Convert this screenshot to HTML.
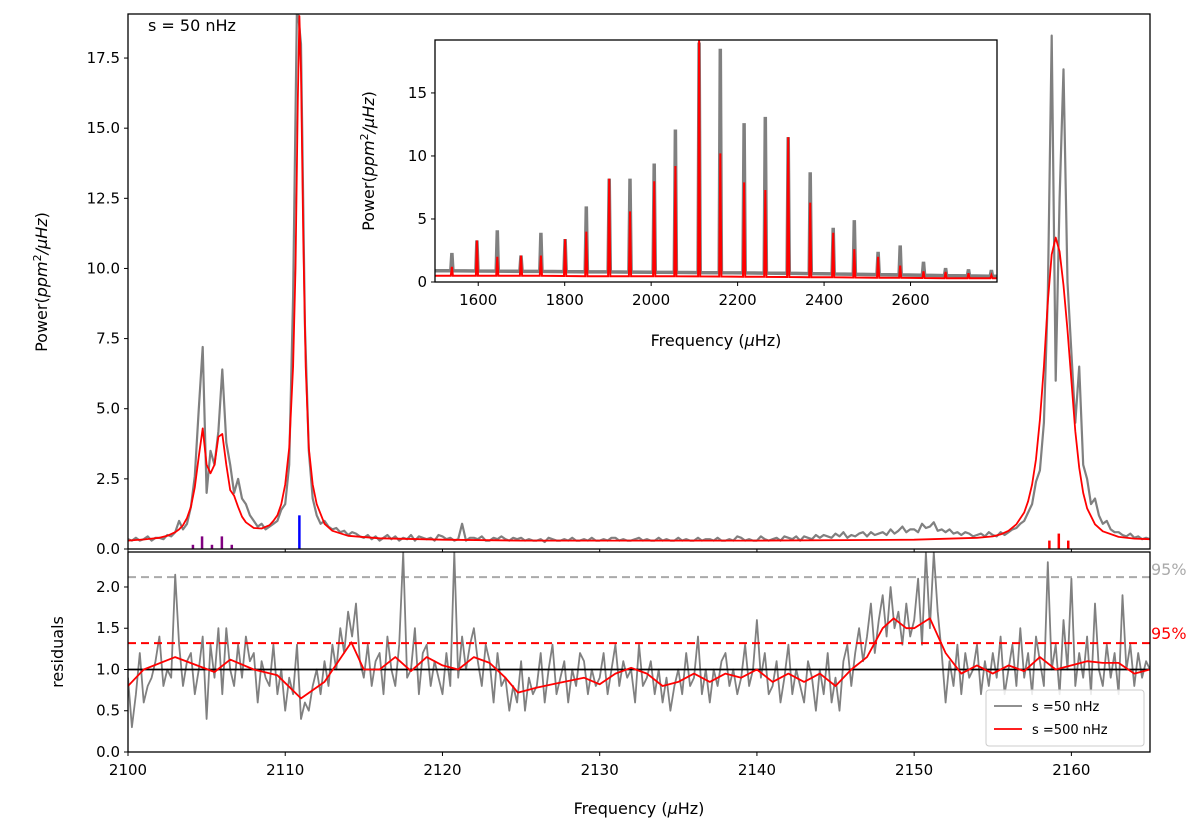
<!DOCTYPE html>
<html><head><meta charset="utf-8"><style>
body{margin:0;background:#fff}
svg{display:block;font-family:"DejaVu Sans","Liberation Sans",sans-serif}
</style></head><body>
<svg id="c" width="1200" height="825" viewBox="0 0 1200 825"></svg>
<script>
// ---------- data ----------
const specStart = 2100, specStep = 0.25;
const specPower = [.35,.3,.4,.3, .35,.45,.3,.4, .4,.35,.5,.45, .6,1.0,.7,.9, 1.5,2.6,5.0,7.2, 2.0,3.5,3.0,4.2, 6.4,3.8,3.0,2.0, 2.5,1.8,1.6,1.2, 1.0,.8,.9,.7, .8,.9,1.0,1.4, 1.6,3.0,9.0,19.5, 18.0,8.0,3.5,1.8, 1.2,.9,1.0,.8, .7,.75,.6,.65, .5,.6,.55,.45,
.4,.5,.35,.45, .3,.4,.5,.35, .45,.3,.4,.35, .5,.3,.45,.4, .35,.4,.3,.5, .45,.35,.4,.3, .35,.9,.3,.4, .4,.35,.45,.3, .3,.4,.35,.45, .35,.3,.4,.35,
.4,.3,.35,.3, .3,.35,.25,.4, .35,.3,.3,.35, .3,.4,.3,.3, .35,.3,.4,.3, .3,.35,.3,.4, .4,.3,.35,.3, .3,.35,.4,.3, .35,.3,.3,.4, .3,.35,.3,.3,
.4,.3,.35,.3, .3,.4,.3,.35, .35,.3,.4,.3, .3,.35,.3,.45, .4,.3,.35,.3, .3,.45,.35,.3, .35,.4,.3,.45, .4,.35,.45,.3, .45,.4,.35,.5, .4,.5,.45,.4,
.55,.45,.6,.4, .5,.45,.55,.6, .45,.6,.5,.55, .6,.5,.7,.55, .65,.8,.6,.7, .7,.6,.9,.75, .8,.95,.65,.7, .6,.7,.55,.6, .5,.6,.55,.45, .5,.55,.45,.6,
.5,.45,.6,.5, .6,.7,.75,.9, 1.0,1.3,1.6,2.4, 2.8,4.5,9.0,18.3, 6.0,12.5,17.1,9.5, 7.0,4.5,6.5,3.0, 2.5,1.6,1.8,1.2, .9,1.0,.7,.6, .6,.5,.45,.55, .4,.45,.35,.4, .35];
const modelFreq = [2100,2100.5,2101,2101.5,2102,2102.5,2103,2103.25,2103.5,2103.75,2104,2104.25,2104.5,2104.75,2105,2105.25,2105.5,2105.75,2106,2106.25,2106.5,2106.75,2107,2107.25,2107.5,2108,2108.5,2109,2109.25,2109.5,2109.75,2110,2110.25,2110.5,2110.65,2110.8,2110.9,2111,2111.15,2111.3,2111.5,2111.75,2112,2112.5,2113,2114,2116,2120,2125,2140,2150,2154,2155,2155.5,2156,2156.5,2157,2157.25,2157.5,2157.75,2158,2158.25,2158.5,2158.75,2159,2159.25,2159.5,2159.75,2160,2160.25,2160.5,2160.75,2161,2161.5,2162,2163,2164,2165];
const modelPower = [.3,.32,.34,.37,.4,.47,.6,.7,.85,1.1,1.5,2.2,3.3,4.3,3.0,2.7,3.0,4.0,4.1,3.0,2.1,1.9,1.5,1.15,.95,.75,.73,.85,1.0,1.2,1.6,2.3,3.6,6.5,10,16,19,17,11,6.5,3.6,2.3,1.6,.9,.65,.47,.38,.33,.3,.3,.33,.4,.45,.52,.65,.88,1.3,1.7,2.3,3.2,4.6,6.5,8.8,10.5,11.1,10.6,9.4,7.8,6.0,4.2,2.9,2.0,1.45,.88,.63,.43,.37,.35];
const markFreq = [2104.13,2104.71,2105.34,2105.97,2106.6,2110.9,2158.6,2159.2,2159.8];
const markHeight = [.15,.45,.15,.45,.15,1.2,.3,.55,.3];
const markColor = ['#800080','#800080','#800080','#800080','#800080','#0000ff','#ff0000','#ff0000','#ff0000'];
const resid = [.9,.3,.7,1.2, .6,.8,.9,1.1, 1.4,.8,1.0,.9, 2.15,1.3,.8,1.1, 1.2,.7,1.0,1.4, .4,1.3,.9,1.5, .7,1.5,1.0,.8, 1.3,.9,1.4,1.1, 1.2,.6,1.1,.9, .8,1.3,.7,1.0,
.5,.9,.7,1.3, .4,.6,.5,.8, 1.0,.7,1.1,.8, 1.3,1.0,1.5,1.2, 1.7,1.4,1.8,1.1, .9,1.3,.8,1.1, 1.2,.7,1.4,1.0, .8,1.3,2.42,.9, 1.0,1.5,.7,1.2, 1.3,.8,1.1,.9,
.7,1.2,.8,2.42, .9,1.4,1.0,1.3, 1.5,1.1,.8,1.3, 1.1,.6,1.2,.8, .9,.5,.8,.6, 1.1,.5,.9,.7, .8,1.2,.6,1.0, 1.3,.7,.9,1.1, .6,1.0,.8,1.2, 1.1,.7,1.0,.8,
.9,1.2,.7,1.0, 1.3,.8,1.1,.9, 1.0,.6,1.3,.8, .9,1.1,.7,1.0, .6,.9,.5,.8, 1.0,.7,1.2,.8, .9,1.4,.7,1.0, .6,1.0,.8,1.1, 1.2,.8,1.0,.7, .9,1.3,.8,1.0,
1.6,.9,1.2,.7, .8,1.1,.6,.9, 1.3,.7,1.0,.8, .6,1.1,.9,.5, 1.0,.7,1.2,.6, .9,.5,1.1,1.3, .8,1.2,1.5,1.1, 1.4,1.8,1.2,1.6, 1.9,1.4,2.0,1.5, 1.7,1.3,1.8,1.4,
1.6,2.1,1.3,2.42, 1.5,2.42,1.7,1.2, .6,1.1,.8,1.3, .7,1.2,.9,1.0, 1.3,.7,1.1,.8, 1.2,.9,1.4,.7, 1.0,1.3,.8,1.5, .9,1.2,.7,1.4, 1.1,.8,2.3,1.0, 1.3,.7,1.6,1.0,
2.1,.8,1.2,.9, 1.4,.7,1.8,1.0, .8,1.3,.9,1.2, .7,1.9,1.0,1.3, .8,1.2,.9,1.1, 1.0];
const smoothFreq = [2100,2101,2103,2105.5,2106.5,2108,2109.5,2111,2112.5,2114.2,2115,2116,2117,2118,2119,2120,2121,2122,2123,2124,2124.8,2126,2127,2128,2129,2130,2131,2132,2133,2134,2135,2136,2137,2138,2139,2140,2141,2142,2143,2144,2145,2146,2147,2148,2148.7,2149.5,2150,2151,2152,2153,2154,2155,2156,2157,2158,2159,2160,2161,2162,2163,2164,2165];
const smoothVal = [.8,1.0,1.15,.97,1.12,1.0,.93,.65,.85,1.33,1.0,1.0,1.15,.98,1.15,1.05,1.0,1.15,1.08,.9,.72,.78,.82,.86,.9,.82,.95,1.02,.95,.8,.85,.95,.85,.95,.9,1.0,.85,.95,.85,.95,.8,1.0,1.15,1.5,1.62,1.5,1.5,1.62,1.2,.95,1.05,.95,1.05,.98,1.15,1.0,1.05,1.1,1.08,1.08,.95,1.0];
const thrGrey = 2.12, thrRed = 1.32;
const insetPeakFreq = [1539,1597,1644,1699,1745,1801,1850,1903,1951,2007,2056,2111,2160,2215,2264,2317,2368,2421,2470,2525,2576,2630,2681,2734,2787];
const insetGreyPeak = [2.3,3.3,4.1,2.1,3.9,3.4,6.0,8.2,8.2,9.4,12.1,19.0,18.5,12.6,13.1,11.5,8.7,4.3,4.9,2.4,2.9,1.6,1.1,1.0,0.95];
const insetRedPeak = [1.2,3.3,2.0,2.1,2.1,3.4,4.0,8.2,5.6,8.0,9.2,19.2,10.2,7.9,7.3,11.5,6.3,3.9,2.6,2.0,1.3,0.85,0.8,0.7,0.55];
const insetBgFreq = [1500,1700,1900,2100,2300,2500,2700,2800];
const insetBgGrey = [0.9,0.85,0.8,0.75,0.7,0.6,0.5,0.45];
const insetBgRed = [0.5,0.5,0.45,0.45,0.4,0.35,0.3,0.3];
const mainYTicks = [0,2.5,5,7.5,10,12.5,15,17.5];
const mainYLabels = ['0.0','2.5','5.0','7.5','10.0','12.5','15.0','17.5'];
const resYTicks = [0,0.5,1,1.5,2];
const resYLabels = ['0.0','0.5','1.0','1.5','2.0'];
const xTicks = [2100,2110,2120,2130,2140,2150,2160];
const insetXTicks = [1600,1800,2000,2200,2400,2600];
const insetYTicks = [0,5,10,15];

// ---------- helpers ----------
const svg = document.getElementById('c');
const NS = 'http://www.w3.org/2000/svg';
function mk(tag, attrs, parent){const e=document.createElementNS(NS,tag);for(const k in attrs)e.setAttribute(k,attrs[k]);(parent||svg).appendChild(e);return e;}
function txt(s, x, y, attrs, parent){const e=mk('text',Object.assign({x:x,y:y,'font-size':15,fill:'#000'},attrs),parent);e.textContent=s;return e;}
const L=128,R=1150, MT=14, MB=549, RT=552, RB=752;
const X0=2100,X1=2165;
const sx=f=>L+(f-X0)/(X1-X0)*(R-L);
const syM=v=>MB-v/19.07*(MB-MT);
const syR=v=>RB-v/2.424*(RB-RT);
const IL=435,IR=997,IT=40,IB=282, IX0=1500,IX1=2800, IYM=19.2;
const sxI=f=>IL+(f-IX0)/(IX1-IX0)*(IR-IL);
const syI=v=>IB-v/IYM*(IB-IT);

const defs=mk('defs',{});
const cm=mk('clipPath',{id:'cm'},defs); mk('rect',{x:L,y:MT,width:R-L,height:MB-MT},cm);
const cr=mk('clipPath',{id:'cr'},defs); mk('rect',{x:L,y:RT,width:R-L,height:RB-RT},cr);
const ci=mk('clipPath',{id:'ci'},defs); mk('rect',{x:IL,y:IT,width:IR-IL,height:IB-IT},ci);

// ---------- main panel ----------
const gM=mk('g',{'clip-path':'url(#cm)'});


let p=specPower.map((v,i)=>sx(specStart+i*specStep).toFixed(1)+','+syM(v).toFixed(1)).join(' ');
const spec=mk('polyline',{points:p,fill:'none',stroke:'#808080','stroke-width':2.2,'stroke-linejoin':'round'},gM);


p=modelFreq.map((f,i)=>sx(f).toFixed(1)+','+syM(modelPower[i]).toFixed(1)).join(' ');
const mod=mk('polyline',{points:p,fill:'none',stroke:'#ff0000','stroke-width':1.8,'stroke-linejoin':'round'},gM);


markFreq.forEach((f,i)=>{
  const m=mk('line',{x1:sx(f),x2:sx(f),y1:syM(0),y2:syM(markHeight[i]),stroke:markColor[i],'stroke-width':2.5},gM);
  
  
});
const fm=mk('rect',{x:L,y:MT,width:R-L,height:MB-MT,fill:'none',stroke:'#000','stroke-width':1.3});


mainYTicks.forEach((v,i)=>{
  mk('line',{x1:L-4,x2:L,y1:syM(v),y2:syM(v),stroke:'#000'});
  const t=txt(mainYLabels[i],L-8,syM(v)+5,{'text-anchor':'end'});
  
  
});
xTicks.forEach(v=>mk('line',{x1:sx(v),x2:sx(v),y1:MB,y2:MB+3,stroke:'#000'}));
const s50=txt('s = 50 nHz',148,31,{'font-size':16});


const yl=mk('text',{x:0,y:0,'font-size':16,'text-anchor':'middle',transform:'translate(47,282) rotate(-90)'});
yl.innerHTML='Power(<tspan font-style="italic">ppm</tspan><tspan font-size="11" dy="-6">2</tspan><tspan dy="6" font-style="italic">/μHz</tspan>)';



// ---------- inset ----------
const gIbg=mk('rect',{x:IL,y:IT,width:IR-IL,height:IB-IT,fill:'#fff'});


const gI=mk('g',{'clip-path':'url(#ci)'});


function bgAt(arr,f){for(let i=0;i<insetBgFreq.length-1;i++){if(f<=insetBgFreq[i+1]){const t=(f-insetBgFreq[i])/(insetBgFreq[i+1]-insetBgFreq[i]);return arr[i]+t*(arr[i+1]-arr[i]);}}return arr[arr.length-1];}
function peakLine(peaks,bgArr,w){
  const pts=[[IX0,bgAt(bgArr,IX0)]];
  insetPeakFreq.forEach((f,i)=>{pts.push([f-w,bgAt(bgArr,f-w)]);pts.push([f,peaks[i]]);pts.push([f+w,bgAt(bgArr,f+w)]);});
  pts.push([IX1,bgAt(bgArr,IX1)]);
  return pts.map(q=>sxI(q[0]).toFixed(1)+','+syI(q[1]).toFixed(1)).join(' ');
}
const ig=mk('polyline',{points:peakLine(insetGreyPeak,insetBgGrey,2.5),fill:'none',stroke:'#808080','stroke-width':3.5},gI);


const ir=mk('polyline',{points:peakLine(insetRedPeak,insetBgRed,2.5),fill:'none',stroke:'#ff0000','stroke-width':2},gI);


const fi=mk('rect',{x:IL,y:IT,width:IR-IL,height:IB-IT,fill:'none',stroke:'#000','stroke-width':1.3});


insetXTicks.forEach(v=>{
  mk('line',{x1:sxI(v),x2:sxI(v),y1:IB,y2:IB+4,stroke:'#000'});
  const t=txt(String(v),sxI(v),IB+23,{'text-anchor':'middle'});
  
  
});
insetYTicks.forEach(v=>{
  mk('line',{x1:IL-4,x2:IL,y1:syI(v),y2:syI(v),stroke:'#000'});
  const t=txt(String(v),IL-8,syI(v)+5,{'text-anchor':'end'});
  
  
});
const ixl=mk('text',{x:716,y:346,'font-size':16,'text-anchor':'middle'});
ixl.innerHTML='Frequency (<tspan font-style="italic">μ</tspan>Hz)';


const iyl=mk('text',{x:0,y:0,'font-size':16,'text-anchor':'middle',transform:'translate(374,161) rotate(-90)'});
iyl.innerHTML='Power(<tspan font-style="italic">ppm</tspan><tspan font-size="11" dy="-6">2</tspan><tspan dy="6" font-style="italic">/μHz</tspan>)';



// ---------- residual panel ----------
const gR=mk('g',{'clip-path':'url(#cr)'});


const lg=mk('line',{x1:L,x2:R,y1:syR(thrGrey),y2:syR(thrGrey),stroke:'#aaaaaa','stroke-width':2,'stroke-dasharray':'8,5'},gR);


p=resid.map((v,i)=>sx(specStart+i*specStep).toFixed(1)+','+syR(v).toFixed(1)).join(' ');
const rs=mk('polyline',{points:p,fill:'none',stroke:'#808080','stroke-width':1.8,'stroke-linejoin':'round'},gR);


const l1=mk('line',{x1:L,x2:R,y1:syR(1),y2:syR(1),stroke:'#000','stroke-width':1.8},gR);


const lr=mk('line',{x1:L,x2:R,y1:syR(thrRed),y2:syR(thrRed),stroke:'#ff0000','stroke-width':2,'stroke-dasharray':'8,5'},gR);


p=smoothFreq.map((f,i)=>sx(f).toFixed(1)+','+syR(smoothVal[i]).toFixed(1)).join(' ');
const rsm=mk('polyline',{points:p,fill:'none',stroke:'#ff0000','stroke-width':1.8,'stroke-linejoin':'round'},gR);


const fr=mk('rect',{x:L,y:RT,width:R-L,height:RB-RT,fill:'none',stroke:'#000','stroke-width':1.3});


resYTicks.forEach((v,i)=>{
  mk('line',{x1:L-4,x2:L,y1:syR(v),y2:syR(v),stroke:'#000'});
  const t=txt(resYLabels[i],L-8,syR(v)+5,{'text-anchor':'end'});
  
  
});
xTicks.forEach(v=>{
  mk('line',{x1:sx(v),x2:sx(v),y1:RB,y2:RB+4,stroke:'#000'});
  const t=txt(String(v),sx(v),RB+23,{'text-anchor':'middle'});
  
  
});
const p95g=txt('95%',1151,syR(thrGrey)-2,{fill:'#aaaaaa','font-size':16});


const p95r=txt('95%',1151,syR(thrRed)-4,{fill:'#ff0000','font-size':16});


const rl=txt('residuals',0,0,{'font-size':16,'text-anchor':'middle',transform:'translate(63,652) rotate(-90)'});


const xl=mk('text',{x:639,y:814,'font-size':16,'text-anchor':'middle'});
xl.innerHTML='Frequency (<tspan font-style="italic">μ</tspan>Hz)';



// legend
const lgG=mk('g',{});


mk('rect',{x:986,y:690,width:158,height:56,rx:3,fill:'#fff','fill-opacity':0.85,stroke:'#cccccc'},lgG);
mk('line',{x1:994,x2:1022,y1:706,y2:706,stroke:'#808080','stroke-width':1.8},lgG);
const le1=txt('s =50 nHz',1032,711,{'font-size':13},lgG);


mk('line',{x1:994,x2:1022,y1:729,y2:729,stroke:'#ff0000','stroke-width':1.8},lgG);
const le2=txt('s =500 nHz',1032,734,{'font-size':13},lgG);


</script>
</body></html>
